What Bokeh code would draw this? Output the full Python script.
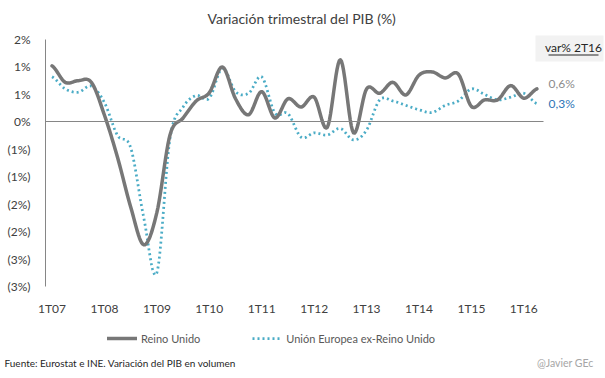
import numpy as np
from bokeh.plotting import figure
from bokeh.models import (Range1d, FixedTicker, Label, Legend, LegendItem, LinearAxis,
                          BoxAnnotation)
from bokeh.embed import file_html
from bokeh.resources import INLINE

# ---------------- data ----------------
year_labels = ["1T07", "1T08", "1T09", "1T10", "1T11", "1T12", "1T13", "1T14", "1T15", "1T16"]
uk = [1.02, 0.72, 0.75, 0.72, 0.12, -0.65, -1.55, -2.24, -1.65, -0.24,
      0.07, 0.38, 0.53, 1.00, 0.42, 0.13, 0.55, 0.07, 0.42, 0.27,
      0.45, -0.10, 1.13, -0.20, 0.60, 0.52, 0.72, 0.49, 0.85, 0.91,
      0.80, 0.87, 0.28, 0.40, 0.40, 0.66, 0.43, 0.60]
eu_ex_uk = [0.82, 0.60, 0.54, 0.65, 0.35, -0.25, -0.47, -1.75, -2.75, -0.30,
            0.27, 0.48, 0.43, 0.98, 0.55, 0.52, 0.82, 0.16, 0.15, -0.28,
            -0.20, -0.24, -0.12, -0.33, -0.15, 0.40, 0.38, 0.30, 0.22, 0.17,
            0.30, 0.38, 0.60, 0.50, 0.40, 0.45, 0.52, 0.33]
y_ticks = [1.5, 1.0, 0.5, 0.0, -0.5, -1.0, -1.5, -2.0, -2.5, -3.0]
y_tick_labels = ["2%", "1%", "1%", "0%", "(1%)", "(1%)", "(2%)", "(2%)", "(3%)", "(3%)"]
series_names = ["Reino Unido", "Unión Europea ex-Reino Unido"]
last_labels = ["0,6%", "0,3%"]

FONT = "Lato"
GRAY_AX = "#868686"


def smooth(vals, n=12):
    """Catmull-Rom smoothing (as Excel's smoothed line)."""
    P = [vals[0]] + list(vals) + [vals[-1]]
    xs, ys = [], []
    for i in range(len(vals) - 1):
        p0, p1, p2, p3 = P[i], P[i + 1], P[i + 2], P[i + 3]
        for t in np.linspace(0, 1, n, endpoint=False):
            y = 0.5 * (2 * p1 + (-p0 + p2) * t + (2 * p0 - 5 * p1 + 4 * p2 - p3) * t ** 2
                       + (-p0 + 3 * p1 - 3 * p2 + p3) * t ** 3)
            xs.append(i + t)
            ys.append(y)
    xs.append(len(vals) - 1)
    ys.append(vals[-1])
    return xs, ys


# ---------------- layout (pixels) ----------------
W, H = 605, 378
n = len(uk)
x0d, x1d = -0.5, n - 0.5           # category area in data units
y0d, y1d = y_ticks[-1], y_ticks[0]  # value axis in data units
PL, PR, PT, PB = 45, 543, 39, 286  # plot-area pixel box
sx = (PR - PL) / (x1d - x0d)
sy = (PB - PT) / (y1d - y0d)
x_range = Range1d(x0d - PL / sx, x1d + (W - PR) / sx)
y_range = Range1d(y0d - (H - PB) / sy, y1d + PT / sy)

p = figure(width=W, height=H, output_backend="svg", toolbar_location=None,
           x_range=x_range, y_range=y_range, min_border=0,
           x_axis_location=None, y_axis_location=None)
p.outline_line_color = None
p.grid.grid_line_color = None
p.background_fill_color = "white"
p.border_fill_color = "white"

# value axis
yax = LinearAxis(fixed_location=x0d, bounds=(y0d, y1d), ticker=FixedTicker(ticks=y_ticks),
                 major_label_overrides={t: l for t, l in zip(y_ticks, y_tick_labels)},
                 axis_line_color=GRAY_AX, major_tick_line_color=None,
                 minor_tick_line_color=None, major_label_standoff=9,
                 major_label_text_font=FONT, major_label_text_font_size="12px",
                 major_label_text_color="#404040")
p.add_layout(yax, "left")

# category labels (at the bottom of the value axis)
xt = [4 * i for i in range(len(year_labels))]
xax = LinearAxis(fixed_location=y0d, ticker=FixedTicker(ticks=xt),
                 major_label_overrides={t: l for t, l in zip(xt, year_labels)},
                 axis_line_color=None, major_tick_line_color=None,
                 minor_tick_line_color=None, major_label_standoff=8,
                 major_label_text_font=FONT, major_label_text_font_size="12px",
                 major_label_text_color="#404040")
p.add_layout(xax, "below")

# category axis line crossing at 0
zax = LinearAxis(fixed_location=0, bounds=(x0d, x1d), ticker=FixedTicker(ticks=[]),
                 axis_line_color=GRAY_AX, major_tick_line_color=None,
                 minor_tick_line_color=None)
p.add_layout(zax, "below")

ux, uy = smooth(uk)
ex, ey = smooth(eu_ex_uk)
r_eu = p.line(ex, ey, line_color="#4bacc6", line_width=2.75, line_dash="2 3")
r_uk = p.line(ux, uy, line_color="#777777", line_width=3.5, line_join="round", line_cap="round")

legend = Legend(items=[LegendItem(label=series_names[0], renderers=[r_uk]),
                       LegendItem(label=series_names[1], renderers=[r_eu])],
                orientation="horizontal", location=(107, H - 346),
                background_fill_alpha=0, border_line_alpha=0, padding=0, margin=0,
                spacing=52, glyph_width=30, glyph_height=16, label_height=16,
                label_standoff=4, label_text_font=FONT, label_text_font_size="11px",
                label_text_color="#595959")
p.add_layout(legend)


def lab(text, cx, cy, **kw):
    p.add_layout(Label(x=cx, y=H - cy, x_units="screen", y_units="screen",
                       text=text, text_font=FONT, **kw))


# title
lab("Variación trimestral  del PIB (%)", 303, 18, text_align="center", text_baseline="middle",
    text_font_size="14px", text_color="#404040")

# "var% 2T16" box
p.add_layout(BoxAnnotation(left=535, right=603, top=H - 35, bottom=H - 61,
                           left_units="screen", right_units="screen",
                           top_units="screen", bottom_units="screen",
                           fill_color="#f2f2f2", fill_alpha=1, line_color=None))
lab("var% 2T16", 573, 47, text_align="center", text_baseline="middle",
    text_font_size="12px", text_color="#262626")
p.add_layout(BoxAnnotation(left=548, right=598, top=H - 54, bottom=H - 55,
                           left_units="screen", right_units="screen",
                           top_units="screen", bottom_units="screen",
                           fill_color="#262626", fill_alpha=1, line_color=None))

# last values
lab(last_labels[0], 548, 83, text_align="left", text_baseline="middle",
    text_font_size="12px", text_color="#8c8c8c")
lab(last_labels[1], 548, 103, text_align="left", text_baseline="middle",
    text_font_size="12px", text_color="#2e75b6")

# footer
lab("Fuente: Eurostat e INE. Variación del PIB en volumen", 4, 362, text_align="left",
    text_baseline="middle", text_font_size="10px", text_color="#262626")
lab("@Javier GEc", 593, 362, text_align="right", text_baseline="middle",
    text_font_size="10.5px", text_color="#a6a6a6")

open("out.html", "w").write(file_html(p, INLINE))
